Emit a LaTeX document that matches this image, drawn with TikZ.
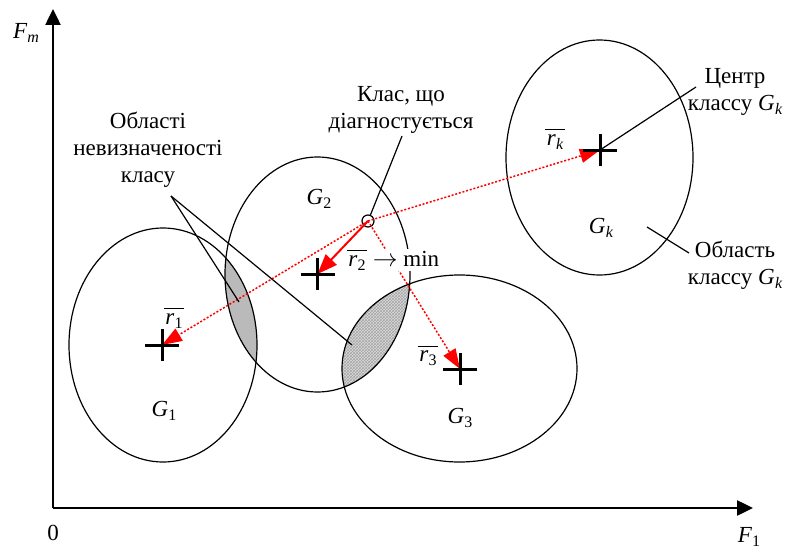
\documentclass[tikz,border=0pt]{standalone}
\usepackage{fontspec}
\setmainfont{Liberation Serif}
\usetikzlibrary{arrows.meta,patterns}
\newcommand\mysub[2]{{\itshape #1}\kern0.3pt\raisebox{-0.38ex}{\fontsize{16pt}{16pt}\selectfont #2}}
\newcommand\rbar[1]{\setbox0\hbox{\mysub{r}{#1}}\vbox{\hrule height 1.3pt width \dimexpr\wd0+3pt\relax\kern 4pt\hbox{\kern1.5pt\box0\kern1.5pt}}}
\begin{document}
\begin{tikzpicture}[x=1pt,y=-1pt,
  every node/.style={font=\fontsize{23pt}{27pt}\selectfont, inner sep=1pt},
  ell/.style={draw=black, line width=1.2pt},
  axisline/.style={line width=2.5pt, -{Triangle[length=16pt,width=15pt]}},
  leader/.style={line width=1.2pt},
  reddot/.style={red, line width=1.5pt, dash pattern=on 2pt off 1.8pt, -{Triangle[length=20pt,width=14pt]}},
  redsolid/.style={red, line width=2pt, -{Triangle[length=20pt,width=15pt]}},
  pics/crs/.style={code={\draw[line width=3pt] (-17,0) -- (17,0) (0,-16) -- (0,16);}}
]
\useasboundingbox (0,0) rectangle (785,551);

% centres
\coordinate (x1) at (162,345);
\coordinate (x2) at (317.5,274);
\coordinate (x3) at (460,369);
\coordinate (xk) at (600,150);

% lens fills
\begin{scope}
  \clip (163,345) ellipse [x radius=94, y radius=117];
  \fill[black!27] (317.5,274.5) ellipse [x radius=92.5, y radius=117.5];
\end{scope}
\begin{scope}
  \clip (317.5,274.5) ellipse [x radius=92.5, y radius=117.5];
  \fill[black!14] (459.5,368.5) ellipse [x radius=117.5, y radius=93.5];
  \fill[pattern=crosshatch, pattern color=black!35] (459.5,368.5) ellipse [x radius=117.5, y radius=93.5];
\end{scope}

% ellipses
\draw[ell] (163,345) ellipse [x radius=94, y radius=117];
\draw[ell] (317.5,274.5) ellipse [x radius=92.5, y radius=117.5];
\draw[ell] (459.5,368.5) ellipse [x radius=117.5, y radius=93.5];
\draw[ell] (599.5,157.5) ellipse [x radius=93.5, y radius=117.5];

% axes
\coordinate (o) at (53,508);
\coordinate (ytip) at (53,9);
\coordinate (xtip) at (753,508);
\draw[axisline] (o) -- (ytip);
\draw[axisline] (o) -- (xtip);
\node (fm) at (26,33) {\mysub{F}{\itshape m}};
\node (zero) at (53,533) {0};
\node (f1) at (749,537) {\mysub{F}{1}};

% diagnosed class marker
\node[circle, draw, line width=1.2pt, minimum size=12pt, inner sep=0pt] (c) at (368,221) {};

% red connectors
\draw[reddot] (c.center) -- (x1);
\draw[reddot] (c.center) -- (xk);
\draw[reddot] (c.center) -- (x3);
\draw[redsolid] (c.center) -- (x2);

% crosses
\pic at (x1) {crs};
\pic at (x2) {crs};
\pic at (x3) {crs};
\pic at (xk) {crs};

% labels
\node (g1) at (164,411) {\mysub{G}{1}};
\node (g2) at (319,199) {\mysub{G}{2}};
\node (g3) at (460,418) {\mysub{G}{3}};
\node (gk) at (601,228) {\mysub{G}{\itshape k}};
\node (r1) at (174,318) {\rbar{1}};
\node (r3) at (428,356) {\rbar{3}};
\node (rk) at (555,139) {\rbar{\itshape k}};
\node[fill=white, inner sep=1pt] (r2) at (393,260) {\rbar{2} $\rightarrow$ min};

% text blocks
\node[align=center] (obl) at (148,150) {Області\\невизначеності\\класу};
\node[align=center] (klas) at (401,110) {Клас, що\\діагностується};
\node[align=center] (centr) at (735,92) {Центр\\классу \mysub{G}{\itshape k}};
\node[align=center] (oblk) at (735,265) {Область\\классу \mysub{G}{\itshape k}};

% leader lines
\coordinate (obs) at (171,196);
\coordinate (lens1) at (239,302);
\coordinate (lens2) at (352,345);
\draw[leader] (obs) -- (lens1);
\draw[leader] (obs) -- (lens2);
\coordinate (klasfoot) at (402,136);
\draw[leader] (c) -- (klasfoot);
\coordinate (centrfoot) at (696,87);
\draw[leader] (centrfoot) -- (xk);
\coordinate (oblfoot) at (689,253);
\coordinate (oblin) at (647,227);
\draw[leader] (oblfoot) -- (oblin);
\end{tikzpicture}
\end{document}
